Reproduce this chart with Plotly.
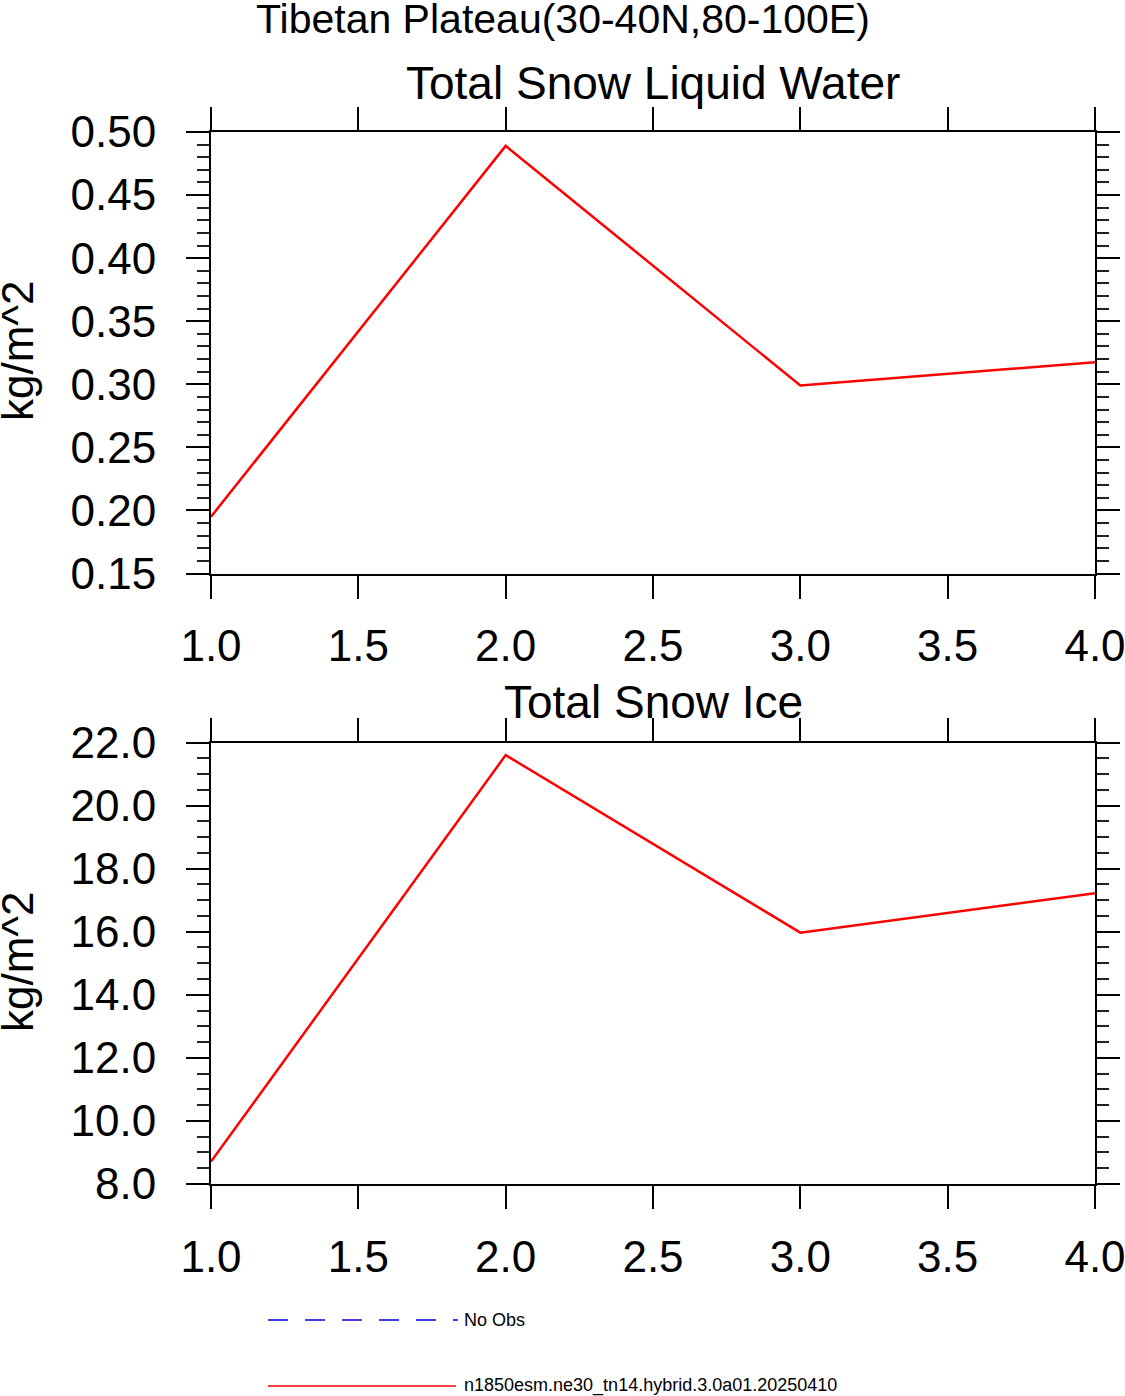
import plotly.graph_objects as go
from plotly.subplots import make_subplots

# data
months = [1, 2, 3, 4]
snow_liquid = [0.195, 0.489, 0.299, 0.3175]
snow_ice = [8.71, 21.6, 15.97, 17.22]
case_name = "n1850esm.ne30_tn14.hybrid.3.0a01.20250410"
obs_name = "No Obs"

W, H = 1125, 1396
L, R, T, B = 211, 1125 - 1095, 132, 1396 - 1184
FONT = "Liberation Sans, Arial, Helvetica, sans-serif"


# reference-picture pixels -> paper coords
def px_x(p):
    return (p - L) / (W - L - R)


def px_y(p):
    return (H - B - p) / (H - T - B)


fig = make_subplots(rows=2, cols=1, vertical_spacing=(742 - 573) / (H - T - B))

fig.add_trace(go.Scatter(x=months, y=snow_liquid, mode="lines", name=case_name,
                         line=dict(color="#ff0000", width=2.5), showlegend=False), row=1, col=1)
fig.add_trace(go.Scatter(x=months, y=snow_ice, mode="lines", name=case_name,
                         line=dict(color="#ff0000", width=2.5), showlegend=False), row=2, col=1)

axis_common = dict(showline=True, linecolor="black", linewidth=2, mirror="ticks",
                   ticks="outside", ticklen=23, tickwidth=2, tickcolor="black",
                   showgrid=False, zeroline=False, automargin=False,
                   ticklabeloverflow="allow",
                   tickfont=dict(family=FONT, size=44, color="black"))

for r in (1, 2):
    fig.update_xaxes(range=[1, 4], tick0=1, dtick=0.5, tickformat=".1f",
                     ticklabelstandoff=10, row=r, col=1, **axis_common)

fig.update_yaxes(range=[0.15, 0.50], tick0=0.15, dtick=0.05, tickformat=".2f",
                 ticklabelstandoff=21,
                 minor=dict(dtick=0.01, ticks="outside", ticklen=12, tickwidth=1.5,
                            tickcolor="#222222", showgrid=False),
                 row=1, col=1, **axis_common)
fig.update_yaxes(range=[8, 22], tick0=8, dtick=2, tickformat=".1f",
                 ticklabelstandoff=21,
                 minor=dict(dtick=0.5, ticks="outside", ticklen=12, tickwidth=1.5,
                            tickcolor="#222222", showgrid=False),
                 row=2, col=1, **axis_common)

annotations = [
    dict(text="Tibetan Plateau(30-40N,80-100E)", x=px_x(563), y=px_y(19), size=41),
    dict(text="Total Snow Liquid Water", x=px_x(653), y=px_y(83), size=46),
    dict(text="Total Snow Ice", x=px_x(653), y=px_y(702), size=46),
]
for a in annotations:
    fig.add_annotation(text=a["text"], x=a["x"], y=a["y"], xref="paper", yref="paper",
                       xanchor="center", yanchor="middle", showarrow=False,
                       font=dict(family=FONT, size=a["size"], color="black"))

for yc in (351, 962):
    fig.add_annotation(text="kg/m^2", x=px_x(17), y=px_y(yc), xref="paper", yref="paper",
                       xanchor="center", yanchor="middle", textangle=-90, showarrow=False,
                       font=dict(family=FONT, size=44, color="black"))

# legend drawn by hand, NCL style
fig.add_shape(type="line", xref="paper", yref="paper",
              x0=px_x(268), x1=px_x(458), y0=px_y(1320), y1=px_y(1320),
              line=dict(color="#0000dd", width=1.5, dash="20px,17px"))
fig.add_shape(type="line", xref="paper", yref="paper",
              x0=px_x(268), x1=px_x(456), y0=px_y(1386), y1=px_y(1386),
              line=dict(color="#ff0000", width=1.5))
for txt, yc in ((obs_name, 1320), (case_name, 1385)):
    fig.add_annotation(text=txt, x=px_x(462), y=px_y(yc), xref="paper", yref="paper",
                       xanchor="left", yanchor="middle", showarrow=False,
                       font=dict(family=FONT, size=18, color="black"))

fig.update_layout(width=W, height=H, margin=dict(l=L, r=R, t=T, b=B),
                  plot_bgcolor="white", paper_bgcolor="white", showlegend=False)

# drop the default 8px page margin so the figure fills the window
fig.write_html("out.html", config={"displayModeBar": False},
               post_script="document.body.style.margin = '0';")
